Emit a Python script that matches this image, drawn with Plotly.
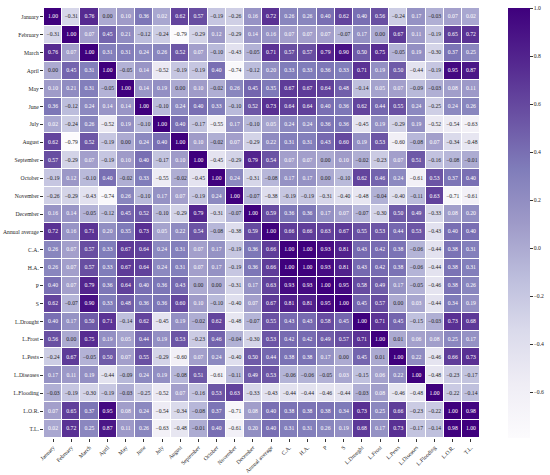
import plotly.graph_objects as go


LABELS = [
    "January", "February", "March", "April", "May", "June", "July",
    "August", "September", "October", "November", "December",
    "Annual average", "C.A.", "H.A.", "P", "S", "L.Drought", "L.Frost",
    "L.Pests", "L.Diseases", "L.Flooding", "L.O.R.", "T.L."
]

# correlation rows, same order as LABELS
jan = [1.00, -0.31, 0.76, 0.00, 0.10, 0.36, 0.02, 0.62, 0.57, -0.19, -0.26, 0.16, 0.72, 0.26, 0.26, 0.40, 0.62, 0.40, 0.56, -0.24, 0.17, -0.03, 0.07, 0.02]
feb = [-0.31, 1.00, 0.07, 0.45, 0.21, -0.12, -0.24, -0.79, -0.29, 0.12, -0.29, 0.14, 0.16, 0.07, 0.07, 0.07, -0.07, 0.17, 0.00, 0.67, 0.11, -0.19, 0.65, 0.72]
mar = [0.76, 0.07, 1.00, 0.31, 0.31, 0.24, 0.26, 0.52, 0.07, -0.10, -0.43, -0.05, 0.71, 0.57, 0.57, 0.79, 0.90, 0.50, 0.75, -0.05, 0.19, -0.30, 0.37, 0.25]
apr = [0.00, 0.45, 0.31, 1.00, -0.05, 0.14, -0.52, -0.19, -0.19, 0.40, -0.74, -0.12, 0.20, 0.33, 0.33, 0.36, 0.33, 0.71, 0.19, 0.50, -0.44, -0.19, 0.95, 0.87]
may = [0.10, 0.21, 0.31, -0.05, 1.00, 0.14, 0.19, 0.00, 0.10, -0.02, 0.26, 0.45, 0.35, 0.67, 0.67, 0.64, 0.48, -0.14, 0.05, 0.07, -0.09, -0.03, 0.08, 0.11]
jun = [0.36, -0.12, 0.24, 0.14, 0.14, 1.00, -0.10, 0.24, 0.40, 0.33, -0.10, 0.52, 0.73, 0.64, 0.64, 0.40, 0.36, 0.62, 0.44, 0.55, 0.24, -0.25, 0.24, 0.26]
jul = [0.02, -0.24, 0.26, -0.52, 0.19, -0.10, 1.00, 0.40, -0.17, -0.55, 0.17, -0.10, 0.05, 0.24, 0.24, 0.36, 0.36, -0.45, 0.19, -0.29, 0.19, -0.52, -0.54, -0.63]
aug = [0.62, -0.79, 0.52, -0.19, 0.00, 0.24, 0.40, 1.00, 0.10, -0.02, 0.07, -0.29, 0.22, 0.31, 0.31, 0.43, 0.60, 0.19, 0.53, -0.60, -0.08, 0.07, -0.34, -0.48]
sep = [0.57, -0.29, 0.07, -0.19, 0.10, 0.40, -0.17, 0.10, 1.00, -0.45, -0.29, 0.79, 0.54, 0.07, 0.07, 0.00, 0.10, -0.02, -0.23, 0.07, 0.51, -0.16, -0.08, -0.01]
oct_ = [-0.19, 0.12, -0.10, 0.40, -0.02, 0.33, -0.55, -0.02, -0.45, 1.00, 0.24, -0.31, -0.08, 0.17, 0.17, 0.00, -0.10, 0.62, 0.46, 0.24, -0.61, 0.53, 0.37, 0.40]
nov = [-0.26, -0.29, -0.43, -0.74, 0.26, -0.10, 0.17, 0.07, -0.19, 0.24, 1.00, -0.07, -0.38, -0.19, -0.19, -0.31, -0.40, -0.48, -0.04, -0.40, -0.11, 0.63, -0.71, -0.61]
dec = [0.16, 0.14, -0.05, -0.12, 0.45, 0.52, -0.10, -0.29, 0.79, -0.31, -0.07, 1.00, 0.59, 0.36, 0.36, 0.17, 0.07, -0.07, -0.30, 0.50, 0.49, -0.33, 0.08, 0.20]
annual = [0.72, 0.16, 0.71, 0.20, 0.35, 0.73, 0.05, 0.22, 0.54, -0.08, -0.38, 0.59, 1.00, 0.66, 0.66, 0.63, 0.67, 0.55, 0.53, 0.44, 0.53, -0.43, 0.40, 0.40]
ca = [0.26, 0.07, 0.57, 0.33, 0.67, 0.64, 0.24, 0.31, 0.07, 0.17, -0.19, 0.36, 0.66, 1.00, 1.00, 0.93, 0.81, 0.43, 0.42, 0.38, -0.06, -0.44, 0.38, 0.31]
ha = [0.26, 0.07, 0.57, 0.33, 0.67, 0.64, 0.24, 0.31, 0.07, 0.17, -0.19, 0.36, 0.66, 1.00, 1.00, 0.93, 0.81, 0.43, 0.42, 0.38, -0.06, -0.44, 0.38, 0.31]
p = [0.40, 0.07, 0.79, 0.36, 0.64, 0.40, 0.36, 0.43, 0.00, 0.00, -0.31, 0.17, 0.63, 0.93, 0.93, 1.00, 0.95, 0.58, 0.49, 0.17, -0.05, -0.46, 0.38, 0.26]
s = [0.62, -0.07, 0.90, 0.33, 0.48, 0.36, 0.36, 0.60, 0.10, -0.10, -0.40, 0.07, 0.67, 0.81, 0.81, 0.95, 1.00, 0.45, 0.57, 0.00, 0.03, -0.44, 0.34, 0.19]
l_drought = [0.40, 0.17, 0.50, 0.71, -0.14, 0.62, -0.45, 0.19, -0.02, 0.62, -0.48, -0.07, 0.55, 0.43, 0.43, 0.58, 0.45, 1.00, 0.71, 0.45, -0.15, -0.03, 0.73, 0.68]
l_frost = [0.56, 0.00, 0.75, 0.19, 0.05, 0.44, 0.19, 0.53, -0.23, 0.46, -0.04, -0.30, 0.53, 0.42, 0.42, 0.49, 0.57, 0.71, 1.00, 0.01, 0.06, 0.08, 0.25, 0.17]
l_pests = [-0.24, 0.67, -0.05, 0.50, 0.07, 0.55, -0.29, -0.60, 0.07, 0.24, -0.40, 0.50, 0.44, 0.38, 0.38, 0.17, 0.00, 0.45, 0.01, 1.00, 0.22, -0.46, 0.66, 0.73]
l_diseases = [0.17, 0.11, 0.19, -0.44, -0.09, 0.24, 0.19, -0.08, 0.51, -0.61, -0.11, 0.49, 0.53, -0.06, -0.06, -0.05, 0.03, -0.15, 0.06, 0.22, 1.00, -0.48, -0.23, -0.17]
l_flooding = [-0.03, -0.19, -0.30, -0.19, -0.03, -0.25, -0.52, 0.07, -0.16, 0.53, 0.63, -0.33, -0.43, -0.44, -0.44, -0.46, -0.44, -0.03, 0.08, -0.46, -0.48, 1.00, -0.22, -0.14]
l_or = [0.07, 0.65, 0.37, 0.95, 0.08, 0.24, -0.54, -0.34, -0.08, 0.37, -0.71, 0.08, 0.40, 0.38, 0.38, 0.38, 0.34, 0.73, 0.25, 0.66, -0.23, -0.22, 1.00, 0.98]
tl = [0.02, 0.72, 0.25, 0.87, 0.11, 0.26, -0.63, -0.48, -0.01, 0.40, -0.61, 0.20, 0.40, 0.31, 0.31, 0.26, 0.19, 0.68, 0.17, 0.73, -0.17, -0.14, 0.98, 1.00]

Z = [jan, feb, mar, apr, may, jun, jul, aug, sep, oct_, nov, dec, annual,
     ca, ha, p, s, l_drought, l_frost, l_pests, l_diseases, l_flooding, l_or, tl]

ZMIN = -0.79
ZMAX = 1.0

PURPLES = [
    (252, 251, 253), (239, 237, 245), (218, 218, 235), (188, 189, 220),
    (158, 154, 200), (128, 125, 186), (106, 81, 163), (84, 39, 143), (63, 0, 125)
]

FONT = "Liberation Serif"
FS = 5.7


def minus(v, fmt="{:.2f}"):
    return fmt.format(v).replace("-", "\u2212")


# seaborn style: dark text on light cells, white on dark ones
def text_color(v):
    t = (v - ZMIN) / (ZMAX - ZMIN)
    t = min(max(t, 0), 1) * (len(PURPLES) - 1)
    i = min(int(t), len(PURPLES) - 2)
    f = t - i
    rgb = [PURPLES[i][k] + (PURPLES[i + 1][k] - PURPLES[i][k]) * f for k in range(3)]
    lin = []
    for c in rgb:
        c = c / 255
        lin.append(c / 12.92 if c <= 0.03928 else ((c + 0.055) / 1.055) ** 2.4)
    lum = 0.2126 * lin[0] + 0.7152 * lin[1] + 0.0722 * lin[2]
    return "#262626" if lum > 0.408 else "white"


xs, ys, txt, cols = [], [], [], []
for r, row in enumerate(Z):
    for c, v in enumerate(row):
        xs.append(LABELS[c])
        ys.append(LABELS[r])
        txt.append(minus(v))
        cols.append(text_color(v))

CB_TICKS = [-0.6, -0.4, -0.2, 0.0, 0.2, 0.4, 0.6, 0.8, 1.0]

fig = go.Figure()

fig.add_trace(go.Heatmap(
    z=Z,
    x=LABELS,
    y=LABELS,
    zmin=ZMIN,
    zmax=ZMAX,
    colorscale="Purples",
    xgap=1,
    ygap=1,
    hoverinfo="skip",
    colorbar=dict(
        thickness=22,
        len=1.0,
        y=0.5,
        x=1.064,
        xanchor="left",
        xpad=0,
        ypad=0,
        outlinewidth=0,
        ticks="outside",
        ticklen=3,
        tickwidth=0.8,
        tickcolor="#333",
        tickvals=CB_TICKS,
        ticktext=[minus(v, "{:.1f}") for v in CB_TICKS],
        tickfont=dict(family=FONT, size=FS, color="#262626"),
    ),
))

fig.add_trace(go.Scatter(
    x=xs,
    y=ys,
    mode="text",
    text=txt,
    textfont=dict(family=FONT, size=FS, color=cols),
    hoverinfo="skip",
    showlegend=False,
))

fig.update_layout(
    width=550,
    height=475,
    margin=dict(l=44, r=70, t=8, b=37, autoexpand=False),
    plot_bgcolor="white",
    paper_bgcolor="white",
    font=dict(family=FONT, size=FS, color="#262626"),
    showlegend=False,
)

fig.update_xaxes(
    range=[-0.5, len(LABELS) - 0.5],
    tickangle=-45,
    ticks="outside",
    ticklen=3,
    tickwidth=0.8,
    tickcolor="#333",
    showgrid=False,
    zeroline=False,
    automargin=False,
    tickfont=dict(family=FONT, size=FS),
)
fig.update_yaxes(
    range=[len(LABELS) - 0.5, -0.5],
    ticks="outside",
    ticklen=3,
    tickwidth=0.8,
    tickcolor="#333",
    showgrid=False,
    zeroline=False,
    automargin=False,
    tickfont=dict(family=FONT, size=FS),
)

# drop the default page margin so the figure sits at the window corner
fig.write_html(
    "out.html",
    config={"displayModeBar": False},
    post_script="document.body.style.margin = '0';",
)
